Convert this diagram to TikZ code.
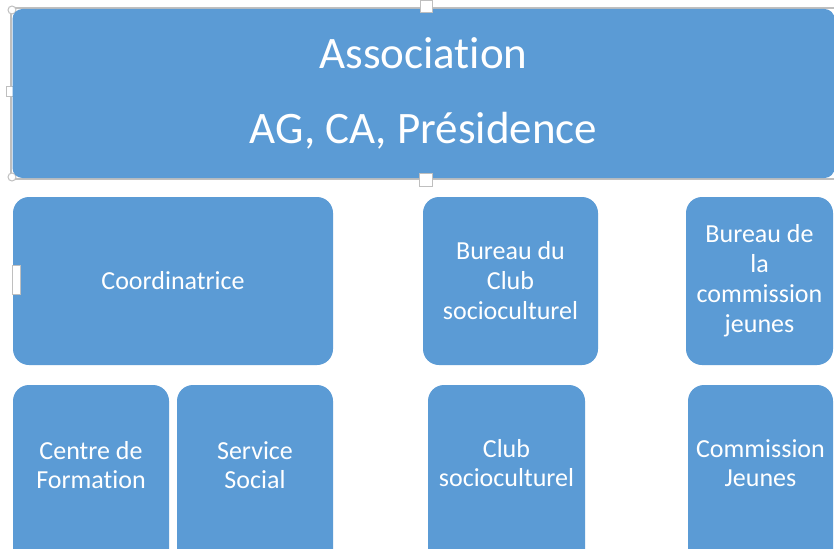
\documentclass[tikz,border=0pt]{standalone}
\usepackage{fontspec}
\setmainfont[Ligatures=NoCommon]{Carlito}
\definecolor{boxblue}{HTML}{5B9BD5}
\definecolor{selgray}{HTML}{BFBFBF}
\begin{document}
\begin{tikzpicture}[x=1pt,y=-1pt,
  orgbox/.style={rectangle, rounded corners=16pt, fill=boxblue, draw=none, inner sep=0pt,
    text=white, align=center, font=\fontsize{26}{30}\selectfont},
  lowtext/.style={inner sep=0pt, text=white, align=center, font=\fontsize{26}{28.5}\selectfont},
  sqhandle/.style={rectangle, draw=selgray, fill=white, line width=1pt, inner sep=0pt, minimum size=#1},
  sqhandle/.default=12pt,
  rdhandle/.style={circle, draw=selgray, fill=white, line width=1pt, inner sep=0pt, minimum size=8pt}]
\useasboundingbox (0,0) rectangle (834,548);
\clip (0,0) rectangle (834,548);
\fill[white] (0,0) rectangle (834,548);

% selection frame of the top shape (behind it)
\draw[selgray, line width=1.3pt] (11,8) rectangle (845,179);
\node[rdhandle] (htl) at (12,10) {};
\node[rdhandle] (hbl) at (12,177) {};
\node[sqhandle=10pt] (hml) at (11,92) {};

% top shape
\node[orgbox, rounded corners=10pt, minimum width=822pt, minimum height=169pt,
  font=\fontsize{45}{75}\selectfont] (assoc) at (423.5,93.5) {Association\\AG, CA, Présidence};
\node[sqhandle=12pt] (htm) at (426,7) {};
\node[sqhandle=13pt] (hbm) at (426,180) {};

% second row
\node[orgbox, minimum width=320pt, minimum height=168pt] (coord) at (173,281) {Coordinatrice};
\node[orgbox, minimum width=175pt, minimum height=168pt] (bclub) at (510.5,281) {Bureau du\\Club\\socioculturel};
\node[orgbox, minimum width=147pt, minimum height=168pt] (bcomm) at (759.5,281) {Bureau de\\la\\commission\\jeunes};
\draw[selgray, fill=white, line width=0.8pt] (12,265) rectangle (20,294);

% third row (cut by the lower edge)
\node[orgbox, minimum width=156pt, minimum height=185pt] (cform) at (91,477.5) {};
\node[orgbox, minimum width=156pt, minimum height=185pt] (ssoc) at (255,477.5) {};
\node[orgbox, minimum width=157pt, minimum height=185pt] (club) at (506.5,477.5) {};
\node[orgbox, minimum width=145pt, minimum height=185pt] (comm) at (760.5,477.5) {};
\node[lowtext] (cformt) at (91,465) {Centre de\\Formation};
\node[lowtext] (ssoct) at (255,465) {Service\\Social};
\node[lowtext] (clubt) at (506.5,463) {Club\\socioculturel};
\node[lowtext] (commt) at (760.5,463) {Commission\\Jeunes};
\end{tikzpicture}
\end{document}
